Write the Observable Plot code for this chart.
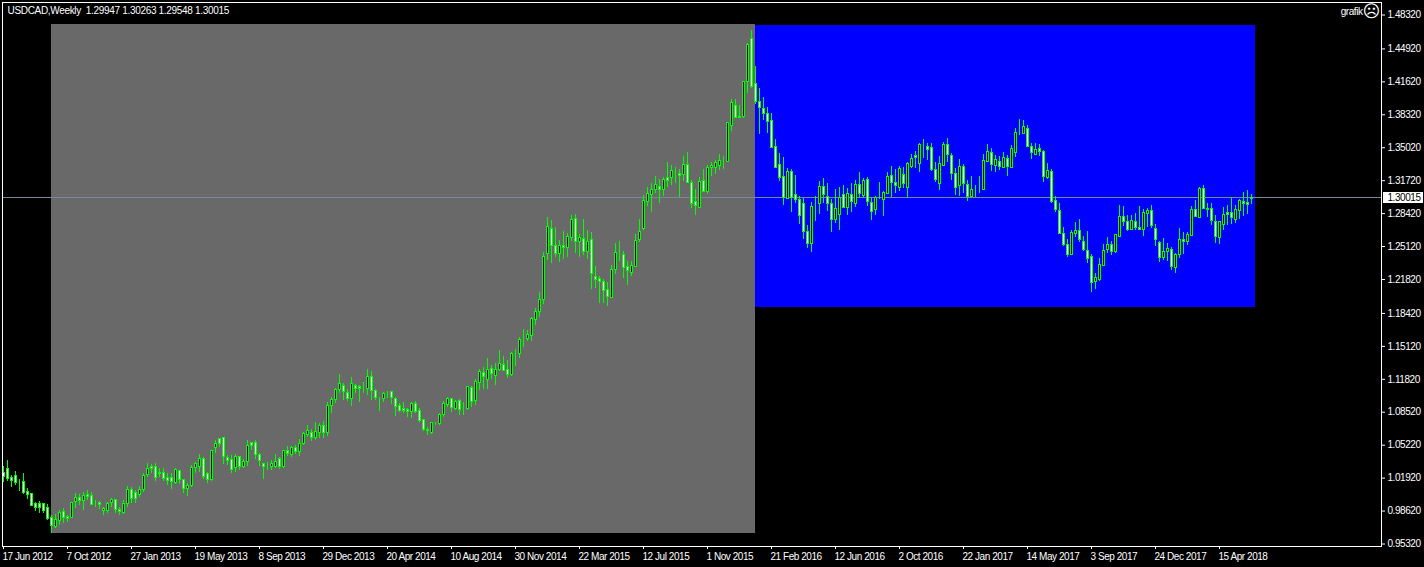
<!DOCTYPE html>
<html>
<head>
<meta charset="utf-8">
<script src="https://cdn.jsdelivr.net/npm/d3@7"></script>
<script src="https://cdn.jsdelivr.net/npm/@observablehq/plot@0.6"></script>
<style>
html,body{margin:0;padding:0;background:#000;}
svg{display:block;}
.hdr text{letter-spacing:-0.32px;}
</style>
</head>
<body>
<div id="chart"></div>
<script>
// Weekly USDCAD prices, in thousandths (1031 = 1.031)
const highs = [
1031,1037,1022,1026,1018,1024,1009,1003,995,996,
994,993,982,983,987,989,982,995,1004,1003,
1005,1007,1005,997,996,990,995,999,998,990,
997,1011,1010,1007,1011,1024,1034,1033,1034,1029,
1029,1024,1024,1029,1027,1018,1014,1032,1035,1043,
1040,1025,1047,1057,1059,1060,1042,1042,1043,1041,
1038,1057,1055,1057,1044,1034,1035,1037,1043,1040,
1047,1051,1051,1052,1058,1065,1072,1068,1075,1074,
1076,1095,1100,1109,1123,1114,1108,1120,1113,1112,
1115,1128,1126,1108,1100,1105,1106,1106,1100,1094,
1095,1089,1095,1096,1089,1078,1070,1075,1075,1084,
1096,1100,1099,1097,1098,1095,1110,1111,1118,1128,
1130,1139,1132,1134,1147,1141,1137,1145,1148,1160,
1168,1167,1180,1189,1205,1245,1280,1277,1270,1257,
1266,1264,1282,1283,1263,1278,1267,1265,1231,1221,
1218,1215,1232,1254,1256,1246,1236,1236,1263,1278,
1302,1310,1314,1321,1318,1320,1335,1332,1330,1328,
1341,1345,1317,1308,1320,1328,1332,1335,1337,1343,
1341,1375,1399,1399,1393,1417,1455,1468,1432,1410,
1401,1391,1385,1358,1344,1340,1329,1328,1322,1301,
1299,1272,1295,1301,1316,1319,1314,1298,1308,1310,
1312,1309,1314,1317,1325,1319,1320,1300,1301,1315,
1306,1325,1331,1328,1331,1330,1335,1343,1346,1354,
1358,1354,1354,1335,1341,1355,1359,1344,1329,1338,
1333,1317,1321,1312,1321,1343,1353,1349,1342,1341,
1345,1342,1352,1369,1379,1377,1372,1354,1354,1353,
1347,1334,1328,1301,1294,1270,1258,1267,1275,1278,
1261,1266,1243,1224,1239,1253,1260,1256,1263,1292,
1291,1282,1282,1284,1291,1288,1289,1292,1273,1256,
1259,1254,1250,1244,1269,1265,1265,1291,1297,1310,
1312,1294,1294,1282,1276,1290,1292,1300,1292,1298,
1305,1307,1303];
const lows = [
1015,1016,1010,1012,1006,1003,998,991,986,984,
984,977,964,969,972,974,975,979,989,992,
987,997,992,990,988,982,984,990,984,982,
983,990,994,994,1000,1005,1020,1024,1016,1020,
1016,1012,1008,1013,1013,1004,1001,1010,1024,1025,
1018,1014,1016,1044,1050,1033,1032,1024,1025,1027,
1029,1031,1047,1038,1031,1018,1027,1027,1029,1028,
1029,1041,1040,1043,1041,1052,1060,1056,1057,1059,
1059,1061,1084,1094,1104,1097,1096,1091,1104,1095,
1104,1102,1097,1097,1086,1095,1099,1093,1081,1085,
1084,1080,1079,1084,1075,1066,1062,1063,1072,1072,
1080,1090,1085,1087,1082,1082,1087,1090,1092,1107,
1108,1108,1118,1112,1126,1126,1119,1121,1131,1139,
1150,1156,1156,1172,1180,1193,1237,1234,1240,1235,
1238,1240,1256,1244,1240,1242,1238,1208,1209,1194,
1194,1191,1199,1223,1236,1219,1212,1221,1230,1255,
1267,1291,1285,1304,1294,1301,1310,1312,1314,1300,
1316,1314,1289,1282,1289,1306,1303,1321,1323,1327,
1328,1335,1366,1380,1380,1380,1405,1410,1394,1363,
1377,1364,1349,1330,1316,1292,1298,1285,1294,1273,
1258,1249,1245,1276,1283,1294,1286,1265,1274,1267,
1289,1282,1285,1290,1299,1299,1291,1277,1282,1298,
1281,1303,1300,1304,1306,1309,1300,1329,1329,1325,
1339,1337,1326,1315,1307,1331,1335,1317,1302,1301,
1304,1296,1301,1300,1304,1307,1335,1326,1325,1327,
1329,1321,1330,1340,1362,1363,1350,1338,1342,1341,
1315,1318,1294,1285,1264,1251,1240,1242,1260,1255,
1246,1234,1205,1208,1216,1231,1244,1242,1244,1260,
1271,1266,1267,1267,1267,1261,1270,1269,1251,1235,
1237,1236,1227,1224,1239,1243,1252,1262,1280,1279,
1288,1280,1272,1254,1253,1267,1272,1273,1274,1278,
1281,1283,1293];
const opens = [
1024,1028,1019,1021,1014,1015,1005,1003,993,993,
993,989,979,970,976,985,980,979,995,999,
996,1002,1001,994,994,986,986,994,997,987,
984,993,1007,1004,1002,1007,1022,1030,1030,1024,
1024,1019,1019,1014,1026,1017,1008,1011,1029,1030,
1038,1023,1017,1049,1058,1059,1039,1037,1029,1040,
1030,1035,1054,1054,1042,1033,1031,1030,1030,1038,
1030,1046,1042,1049,1045,1053,1062,1064,1059,1064,
1071,1064,1091,1097,1107,1111,1104,1098,1111,1110,
1109,1108,1121,1106,1098,1098,1103,1105,1098,1091,
1088,1087,1085,1093,1086,1077,1067,1064,1074,1073,
1082,1092,1098,1088,1096,1088,1088,1109,1096,1115,
1125,1118,1129,1122,1128,1133,1128,1123,1143,1144,
1159,1159,1162,1178,1186,1198,1244,1269,1252,1244,
1252,1250,1260,1279,1256,1259,1246,1258,1221,1219,
1216,1208,1200,1228,1244,1243,1231,1225,1231,1258,
1269,1296,1303,1308,1311,1308,1320,1320,1326,1324,
1323,1333,1315,1296,1290,1317,1306,1330,1330,1332,
1336,1336,1372,1392,1381,1381,1416,1459,1414,1396,
1389,1384,1377,1351,1333,1321,1299,1326,1303,1298,
1294,1266,1254,1294,1294,1311,1301,1294,1278,1283,
1303,1290,1303,1294,1313,1302,1318,1295,1288,1298,
1298,1304,1322,1315,1310,1323,1310,1331,1342,1334,
1350,1351,1350,1328,1314,1332,1353,1342,1324,1312,
1331,1313,1301,1308,1309,1308,1336,1345,1332,1336,
1330,1339,1330,1345,1364,1364,1369,1351,1343,1349,
1346,1320,1326,1297,1287,1264,1253,1243,1264,1267,
1256,1247,1241,1216,1218,1232,1248,1253,1246,1261,
1281,1276,1268,1276,1270,1268,1284,1287,1269,1255,
1240,1246,1248,1230,1243,1258,1256,1262,1288,1280,
1309,1289,1289,1276,1260,1273,1285,1285,1278,1287,
1296,1295,1299];
const closes = [
1020,1018,1016,1014,1014,1004,1002,991,989,989,
986,978,971,977,984,979,978,994,999,996,
1001,1000,992,994,992,988,993,997,987,985,
993,1007,998,998,1007,1021,1028,1028,1019,1023,
1018,1016,1015,1027,1017,1008,1011,1029,1033,1038,
1020,1017,1046,1053,1053,1040,1036,1027,1040,1030,
1035,1051,1051,1042,1036,1030,1031,1033,1035,1030,
1046,1043,1049,1045,1053,1063,1066,1059,1065,1071,
1064,1091,1097,1107,1114,1105,1098,1114,1108,1108,
1109,1121,1106,1099,1098,1103,1103,1099,1090,1086,
1086,1085,1093,1085,1076,1067,1066,1074,1074,1082,
1093,1098,1089,1095,1087,1088,1110,1095,1116,1126,
1121,1128,1124,1128,1134,1127,1123,1144,1143,1158,
1159,1163,1179,1186,1198,1241,1271,1252,1244,1252,
1250,1261,1278,1256,1260,1246,1256,1224,1218,1216,
1207,1201,1228,1245,1244,1230,1227,1232,1257,1266,
1297,1304,1308,1313,1308,1318,1317,1327,1326,1322,
1333,1315,1294,1292,1316,1306,1330,1332,1335,1337,
1336,1375,1395,1380,1380,1416,1453,1411,1396,1390,
1384,1376,1350,1330,1320,1300,1326,1300,1298,1282,
1266,1254,1291,1294,1311,1303,1294,1278,1289,1300,
1290,1304,1296,1313,1304,1317,1296,1286,1300,1298,
1305,1321,1315,1312,1329,1314,1334,1339,1340,1353,
1350,1348,1328,1318,1334,1353,1343,1324,1310,1331,
1314,1301,1308,1308,1309,1337,1346,1333,1338,1331,
1340,1331,1349,1365,1364,1371,1351,1345,1348,1346,
1321,1327,1296,1288,1264,1253,1243,1265,1267,1258,
1248,1239,1215,1220,1233,1247,1253,1246,1263,1281,
1276,1268,1277,1270,1268,1285,1287,1272,1258,1240,
1246,1249,1231,1243,1258,1256,1263,1288,1281,1309,
1289,1288,1277,1261,1276,1283,1283,1280,1288,1297,
1294,1293,1300];

const priceTicks = [1.4832,1.4492,1.4162,1.3832,1.3502,1.3172,1.2842,1.2512,1.2182,1.1842,1.1512,1.1182,1.0852,1.0522,1.0192,0.9862,0.9532];
const dateTickBars = [0,16,32,48,64,80,96,112,128,144,160,176,192,208,224,240,256,272,288,304];
const dateTickLabels = ["17 Jun 2012","7 Oct 2012","27 Jan 2013","19 May 2013","8 Sep 2013","29 Dec 2013","20 Apr 2014","10 Aug 2014","30 Nov 2014","22 Mar 2015","12 Jul 2015","1 Nov 2015","21 Feb 2016","12 Jun 2016","2 Oct 2016","22 Jan 2017","14 May 2017","3 Sep 2017","24 Dec 2017","15 Apr 2018"];

const lastPrice = 1.30015;
const headerText = "USDCAD,Weekly  1.29947 1.30263 1.29548 1.30015";
const indicatorName = "grafik";
const indicatorFace = "\u2639";

// The two drawn rectangles: bar span and price span
const zoneFromBar = [11.875, 187.875];
const zoneToBar = [187.875, 312.875];
const zoneHigh = [1.4737, 1.4727];
const zoneLow = [0.9637, 1.1901];
const zoneColor = ["#696969", "#0000ff"];

const candles = highs.map((h, i) => ({
  i,
  high: h / 1000,
  low: lows[i] / 1000,
  open: opens[i] / 1000,
  close: closes[i] / 1000
}));
const zones = zoneColor.map((c, k) => ({c, x1: zoneFromBar[k], x2: zoneToBar[k], y1: zoneHigh[k], y2: zoneLow[k]}));

const green = "#00ff00";
const crisp = {shapeRendering: "crispEdges"};

const chart = Plot.plot({
  width: 1424,
  height: 567,
  marginLeft: 2,
  marginTop: 2,
  marginRight: 43,
  marginBottom: 21,
  style: {background: "#000", color: "#fff", fontFamily: "'Liberation Sans', Arial, sans-serif", fontSize: "10px", letterSpacing: "-0.45px"},
  x: {domain: [0, 312], range: [3, 1251]},
  y: {domain: [1.4832, 0.9532], range: [14.5, 543.5]},
  marks: [
    Plot.rect(zones, {x1: "x1", x2: "x2", y1: "y1", y2: "y2", fill: "c", ...crisp}),
    Plot.ruleY([lastPrice], {stroke: "#778899", strokeWidth: 1, ...crisp}),
    Plot.ruleX(candles, {x: "i", y1: "low", y2: "high", stroke: green, strokeWidth: 1, ...crisp}),
    Plot.rect(candles, {
      x1: d => d.i - 0.25,
      x2: d => d.i + 0.25,
      y1: "open",
      y2: "close",
      fill: d => d.close >= d.open ? "#000" : "#fff",
      stroke: green,
      strokeWidth: 1,
      ...crisp
    }),
    Plot.frame({stroke: "#fff", strokeWidth: 1}),
    Plot.axisY({ticks: priceTicks, anchor: "right", tickFormat: d => d.toFixed(5), tickSize: 3, tickPadding: 3, color: "#fff", label: null}),
    Plot.axisX({ticks: dateTickBars, tickFormat: () => "", tickSize: 3, color: "#fff", label: null}),
    Plot.axisX({ticks: dateTickBars, tickFormat: d => dateTickLabels[dateTickBars.indexOf(d)], tickSize: 0, tickPadding: 6, textAnchor: "start", dx: -1, color: "#fff", label: null}),
    Plot.rect([lastPrice], {x1: 344.875, x2: 355, y1: d => d + 0.0052, y2: d => d - 0.0058, fill: "#fff", ...crisp}),
    Plot.text([lastPrice], {x: 346, y: d => d, text: d => d.toFixed(5), fill: "#000", textAnchor: "start"}),
    Plot.text([headerText], {frameAnchor: "top-left", dx: 5, dy: 4, fill: "#fff", textAnchor: "start", lineAnchor: "top", className: "hdr"}),
    Plot.text([indicatorName], {frameAnchor: "top-right", dx: -19, dy: 5, fill: "#fff", textAnchor: "end", lineAnchor: "top"}),
    Plot.text([indicatorFace], {frameAnchor: "top-right", dx: -10, dy: 2, fill: "#fff", textAnchor: "middle", lineAnchor: "top", fontFamily: "DejaVu Sans", fontSize: 17})
  ]
});
document.getElementById("chart").appendChild(chart);
</script>
</body>
</html>
